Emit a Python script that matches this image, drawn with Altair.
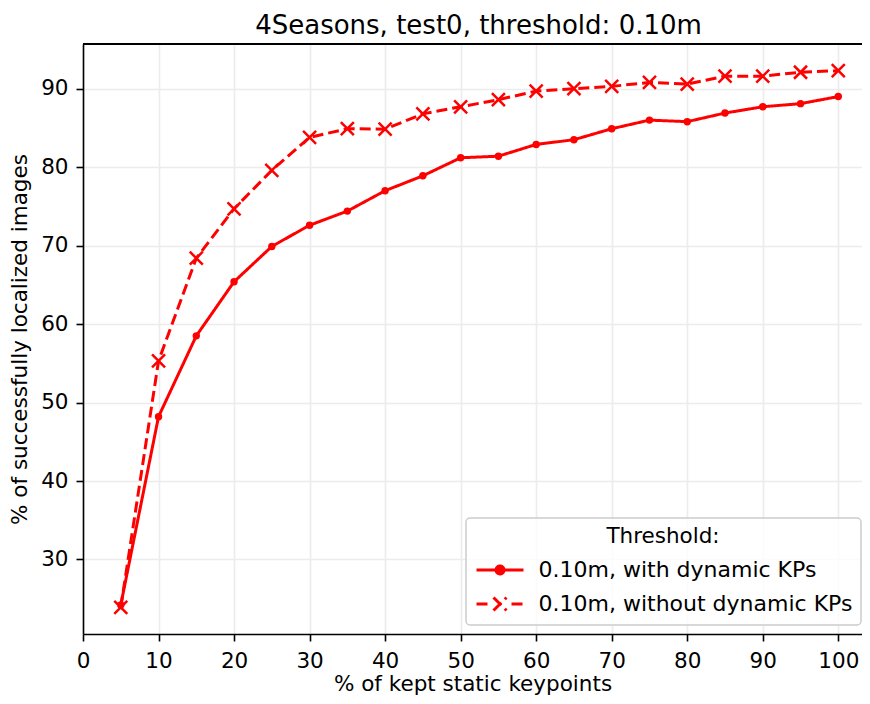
import altair as alt
import pandas as pd

kept = [5, 10, 15, 20, 25, 30, 35, 40, 45, 50, 55, 60, 65, 70, 75, 80, 85, 90, 95, 100]
with_dyn = [24.2, 48.2, 58.5, 65.4, 69.9, 72.6, 74.4, 77.0, 78.9, 81.2,
            81.4, 82.9, 83.5, 84.9, 86.0, 85.8, 86.9, 87.7, 88.1, 89.0]
without_dyn = [23.9, 55.3, 68.4, 74.7, 79.6, 83.8, 84.9, 84.85, 86.8, 87.7,
               88.6, 89.7, 90.0, 90.3, 90.8, 90.6, 91.6, 91.6, 92.1, 92.3]
series_names = ["0.10m, with dynamic KPs", "0.10m, without dynamic KPs"]
x_ticks = [0, 10, 20, 30, 40, 50, 60, 70, 80, 90, 100]
y_ticks = [30, 40, 50, 60, 70, 80, 90]

rows = []
for k, a, b in zip(kept, with_dyn, without_dyn):
    rows.append({"kept": k, "value": a, "series": series_names[0]})
    rows.append({"kept": k, "value": b, "series": series_names[1]})
df = pd.DataFrame(rows)

W, H = 779, 590
FONT = "DejaVu Sans"

xenc = alt.X("kept:Q", scale=alt.Scale(domain=[0, 103.14], nice=False, zero=False),
             axis=alt.Axis(values=x_ticks, title="% of kept static keypoints",
                           labelPadding=9, titlePadding=2, labelFlush=False))
yenc = alt.Y("value:Q", scale=alt.Scale(domain=[20.5, 95.7], nice=False, zero=False),
             axis=alt.Axis(values=y_ticks, title="% of successfully localized images",
                           labelPadding=8, titlePadding=9, labelFlush=False))

path_with = "M-2.35,0L2.35,0M0.4,0A0.4,0.4,0,1,1,-0.4,0A0.4,0.4,0,1,1,0.4,0Z"
path_without = "M-2.35,0L-1.05,0M1.15,0L2.35,0M-0.65,-0.65L0.65,0.65M-0.65,0.65L0.65,-0.65"
shape_expr = "datum.value === '%s' ? '%s' : '%s'" % (series_names[0], path_with, path_without)

legend = alt.Legend(
    title="Threshold:", orient="none", legendX=383, legendY=474,
    titleAnchor="middle", titleFontSize=21.5, titleFontWeight="normal", titleFont=FONT,
    titleColor="black", titlePadding=11,
    labelFontSize=22, labelFont=FONT, labelColor="black", labelOffset=27,
    labelLimit=600,
    symbolSize=400, rowPadding=10, symbolOffset=14.5,
    symbolType={"expr": shape_expr},
    symbolFillColor="red", symbolStrokeColor="red", symbolStrokeWidth=3,
    symbolOpacity=1,
)

base = alt.Chart(df).encode(x=xenc, y=yenc)

lines = base.mark_line(strokeWidth=3).encode(
    color=alt.Color("series:N", scale=alt.Scale(domain=series_names, range=["red", "red"]),
                    legend=legend),
    strokeDash=alt.StrokeDash("series:N",
                              scale=alt.Scale(domain=series_names, range=[[1, 0], [11, 5]]),
                              legend=None),
)
circles = base.mark_circle(color="red", size=55, opacity=1).transform_filter(
    alt.datum.series == series_names[0])
crosses = base.mark_point(shape="M-1,-1L1,1M-1,1L1,-1", filled=False, color="red",
                          size=169, strokeWidth=2.5, opacity=1).transform_filter(
    alt.datum.series == series_names[1])

top_spine = alt.Chart(df).mark_rule(color="black", strokeWidth=1.6).encode(
    x=alt.value(0), x2=alt.value(W), y=alt.value(0))

chart = alt.layer(lines, circles, crosses, top_spine).properties(
    width=W, height=H,
    autosize=alt.AutoSizeParams(type="none"),
    padding={"left": 75, "top": 36, "right": 0, "bottom": 62},
    title=alt.Title("4Seasons, test0, threshold: 0.10m", fontSize=26, font=FONT,
                    fontWeight="normal", color="black", anchor="middle",
                    baseline="bottom", offset=6, dx=6, dy=28),
).configure_view(stroke=None).configure_axis(
    labelFont=FONT, titleFont=FONT, labelFontSize=21.5, titleFontSize=21.5,
    titleFontWeight="normal", labelColor="black", titleColor="black",
    tickColor="black", domainColor="black", tickWidth=1.6, domainWidth=1.6,
    tickSize=7, gridColor="#ececec", gridWidth=1.6,
).configure_legend(
    strokeColor="#cccccc", strokeWidth=1.5, fillColor="rgba(255,255,255,0.8)",
    cornerRadius=4, padding=8,
)

chart.save("out.html", embed_options={"renderer": "svg", "actions": False})
